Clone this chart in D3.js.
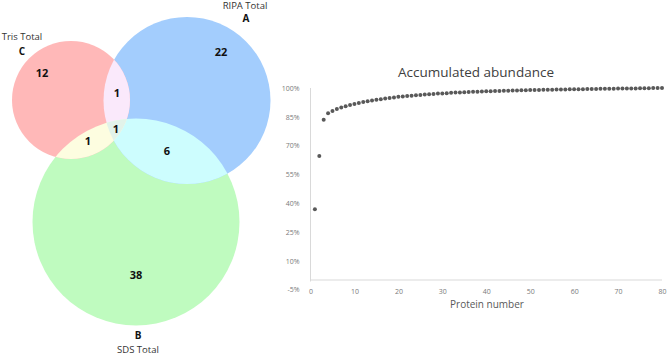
<!DOCTYPE html>
<html>
<head>
<meta charset="utf-8">
<script src="https://cdn.jsdelivr.net/npm/d3@7"></script>
<style>
  body { margin: 0; background: #fff; }
  svg { display: block; }
</style>
</head>
<body>
<svg id="chart" width="667" height="355"></svg>
<script>
// venn sets and region counts
var setKeys = ["A", "B", "C"];
var setNames = ["RIPA Total", "SDS Total", "Tris Total"];
var regionKeys = ["A", "C", "B", "AC", "ABC", "BC", "AB"];
var regionCounts = [22, 12, 38, 1, 1, 1, 6];

// accumulated abundance (%) per protein number 1..80
var proteinNumber = [];
for (var i = 1; i <= 80; i += 1) proteinNumber.push(i);
var abundance = [
  36.8, 64.6, 83.5, 86.8, 88.0, 89.0, 89.8, 90.5, 91.1, 91.7,
  92.2, 92.7, 93.1, 93.5, 93.9, 94.2, 94.5, 94.8, 95.1, 95.4,
  95.6, 95.8, 96.0, 96.2, 96.4, 96.6, 96.8, 96.9, 97.1, 97.2,
  97.3, 97.5, 97.6, 97.7, 97.8, 97.9, 98.0, 98.1, 98.2, 98.3,
  98.35, 98.4, 98.5, 98.55, 98.6, 98.7, 98.75, 98.8, 98.85, 98.9,
  98.95, 99.0, 99.05, 99.1, 99.15, 99.2, 99.2, 99.25, 99.3, 99.35,
  99.4, 99.4, 99.45, 99.5, 99.5, 99.55, 99.6, 99.6, 99.65, 99.7,
  99.7, 99.75, 99.8, 99.8, 99.85, 99.9, 99.9, 99.95, 100, 100
];
var yTicks = [-5, 10, 25, 40, 55, 70, 85, 100];
var xTicks = [0, 10, 20, 30, 40, 50, 60, 70, 80];

var svg = d3.select("#chart");
var font = "'Open Sans', 'Noto Sans', sans-serif";

/////////////////////////////////////////////////
// Venn diagram
/////////////////////////////////////////////////

// circle layout
var circles = {
  A: { cx: 187, cy: 100.5, r: 83.5, fill: "#a3cdfd" },
  B: { cx: 136, cy: 222, r: 103.5, fill: "#bffbbf" },
  C: { cx: 71, cy: 100, r: 59, fill: "#ffb8b8" }
};

var defs = svg.append("defs");
setKeys.forEach(function (k) {
  defs.append("clipPath").attr("id", "clip" + k)
    .append("circle")
    .attr("cx", circles[k].cx).attr("cy", circles[k].cy).attr("r", circles[k].r);
});

var venn = svg.append("g");

function drawCircle(parent, k, fill, clip) {
  var c = parent.append("circle")
    .attr("cx", circles[k].cx).attr("cy", circles[k].cy).attr("r", circles[k].r)
    .attr("fill", fill);
  if (clip) c.attr("clip-path", "url(#clip" + clip + ")");
  return c;
}

drawCircle(venn, "B", circles.B.fill);
drawCircle(venn, "A", circles.A.fill);
drawCircle(venn, "C", circles.C.fill);
drawCircle(venn, "C", "#fae9fb", "A");   // A∩C
drawCircle(venn, "B", "#cdfdfe", "A");   // A∩B
drawCircle(venn, "B", "#fdfde0", "C");   // B∩C
var triple = venn.append("g").attr("clip-path", "url(#clipA)");
drawCircle(triple, "B", "#e2f3ea", "C"); // A∩B∩C

// count label positions
var regionPos = {
  A: [221, 56], C: [42, 77], B: [136, 279],
  AC: [117, 97], ABC: [116, 133], BC: [88, 145], AB: [167, 155]
};

venn.selectAll(".count")
  .data(regionKeys)
  .enter().append("text")
  .attr("class", "count")
  .attr("x", function (d) { return regionPos[d][0]; })
  .attr("y", function (d) { return regionPos[d][1]; })
  .attr("text-anchor", "middle")
  .attr("font-family", font)
  .attr("font-size", "11px")
  .attr("font-weight", "bold")
  .attr("fill", "#111")
  .text(function (d, i) { return regionCounts[i]; });

// set name labels
var namePos = {
  A: { letter: [246, 22], name: [245, 9] },
  B: { letter: [138, 339], name: [138, 353] },
  C: { letter: [22, 55], name: [22, 40] }
};

setKeys.forEach(function (k, i) {
  venn.append("text")
    .attr("x", namePos[k].letter[0]).attr("y", namePos[k].letter[1])
    .attr("text-anchor", "middle")
    .attr("font-family", font).attr("font-size", "10px").attr("font-weight", "bold")
    .attr("fill", "#111")
    .text(k);
  venn.append("text")
    .attr("x", namePos[k].name[0]).attr("y", namePos[k].name[1])
    .attr("text-anchor", "middle")
    .attr("font-family", font).attr("font-size", "9.5px")
    .attr("fill", "#333")
    .text(setNames[i]);
});

/////////////////////////////////////////////////
// Scatter: accumulated abundance
/////////////////////////////////////////////////

var x = d3.scaleLinear().domain([0, 80]).range([310.5, 662]);
var y = d3.scaleLinear().domain([-5, 100]).range([289.6, 88]);

var plot = svg.append("g");

// axis lines
plot.append("line")
  .attr("x1", x(0)).attr("x2", x(0))
  .attr("y1", y(100)).attr("y2", y(0) + 1.5)
  .attr("stroke", "#d9d9d9").attr("stroke-width", 1);
plot.append("line")
  .attr("x1", x(0)).attr("x2", x(80))
  .attr("y1", y(0)).attr("y2", y(0))
  .attr("stroke", "#d9d9d9").attr("stroke-width", 1);

// tick labels
var yAxis = plot.append("g")
  .attr("transform", "translate(" + (x(0) - 8) + ",0)")
  .call(d3.axisLeft(y).tickValues(yTicks).tickSize(0).tickFormat(function (d) { return d + "%"; }));
yAxis.select(".domain").remove();
yAxis.selectAll("text")
  .attr("font-family", font).attr("font-size", "7px").attr("fill", "#7a7a7a");

var xAxis = plot.append("g")
  .attr("transform", "translate(0," + (y(-5) - 3.5) + ")")
  .call(d3.axisBottom(x).tickValues(xTicks).tickSize(0));
xAxis.select(".domain").remove();
xAxis.selectAll("text")
  .attr("font-family", font).attr("font-size", "7px").attr("fill", "#7a7a7a");

// points
plot.selectAll(".pt")
  .data(abundance)
  .enter().append("circle")
  .attr("class", "pt")
  .attr("cx", function (d, i) { return x(proteinNumber[i]); })
  .attr("cy", function (d) { return y(d); })
  .attr("r", 2)
  .attr("fill", "#595959");

// title and axis title
plot.append("text")
  .attr("x", 476).attr("y", 77)
  .attr("text-anchor", "middle")
  .attr("font-family", font).attr("font-size", "13.5px")
  .attr("fill", "#404040")
  .text("Accumulated abundance");

plot.append("text")
  .attr("x", 487).attr("y", 308)
  .attr("text-anchor", "middle")
  .attr("font-family", font).attr("font-size", "10px")
  .attr("fill", "#595959")
  .text("Protein number");
</script>
</body>
</html>
